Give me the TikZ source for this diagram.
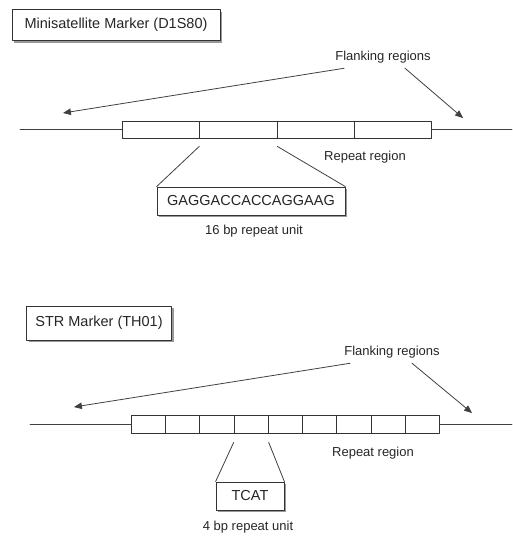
\documentclass[tikz,border=0pt]{standalone}
\usepackage{fontspec}
\setmainfont{Liberation Sans}
\usetikzlibrary{arrows,shadows}

\begin{document}
\begin{tikzpicture}[line cap=round,line join=round,>=triangle 45,x=1pt,y=-1pt,
  every node/.style={text=black!85},
  lbl/.style={font=\fontsize{13}{15}\selectfont,inner sep=1pt},
  tagbox/.style={draw=black!80,line width=0.8pt,fill=white,inner sep=0pt,
    font=\fontsize{14.5}{17}\selectfont,
    drop shadow={shadow xshift=2pt,shadow yshift=-2pt,fill=black!50,opacity=0.8}},
  cell/.style={draw=black!80,line width=0.8pt,fill=white,inner sep=0pt,anchor=west},
  strand/.style={line width=0.8pt,draw=black!75}]
\useasboundingbox (0,0) rectangle (512,538);

% minisatellite
\node[tagbox,minimum width=208,minimum height=31] (mark1) at (116,25) {Minisatellite Marker (D1S80)};
\node[lbl] (flank1) at (383,57) {Flanking regions};
\coordinate (lt1) at (63,113);
\coordinate (rt1) at (463,118);
\draw[->,strand] ([xshift=10pt,yshift=-4pt]flank1.south west) -- (lt1);
\draw[->,strand] ([xshift=22pt,yshift=-4pt]flank1.south) -- (rt1);
\foreach \i in {1,...,4}
  \node[cell,minimum width=77.25,minimum height=17] (a\i) at ({122+(\i-1)*77.25},129.5) {};
\coordinate (a0) at (20,129.5);
\coordinate (a5) at (512,129.5);
\draw[strand] (a0) -- (a1.west);
\draw[strand] (a4.east) -- (a5);
\node[lbl] (rep1) at (365,157) {Repeat region};
\node[tagbox,minimum width=188,minimum height=28] (seq1) at (251,201) {GAGGACCACCAGGAAG};
\draw[strand] ([yshift=-8pt]a2.south west) -- (seq1.north west);
\draw[strand] ([yshift=-8pt]a2.south east) -- (seq1.north east);
\node[lbl] (unit1) at (254,231) {16 bp repeat unit};

% STR
\node[tagbox,minimum width=145,minimum height=34] (mark2) at (99,323) {STR Marker (TH01)};
\node[lbl] (flank2) at (392,352) {Flanking regions};
\coordinate (lt2) at (74,407);
\coordinate (rt2) at (472,413);
\draw[->,strand] ([xshift=7pt,yshift=-4pt]flank2.south west) -- (lt2);
\draw[->,strand] ([xshift=20pt,yshift=-4pt]flank2.south) -- (rt2);
\foreach \i in {1,...,9}
  \node[cell,minimum width=34.22,minimum height=18] (b\i) at ({131+(\i-1)*34.22},424) {};
\coordinate (b0) at (30,424);
\coordinate (b10) at (512,424);
\draw[strand] (b0) -- (b1.west);
\draw[strand] (b9.east) -- (b10);
\node[lbl] (rep2) at (373,453) {Repeat region};
\node[tagbox,minimum width=68,minimum height=28] (seq2) at (250,496) {TCAT};
\draw[strand] ([yshift=-9pt]b4.south west) -- (seq2.north west);
\draw[strand] ([yshift=-9pt]b4.south east) -- (seq2.north east);
\node[lbl] (unit2) at (248,527) {4 bp repeat unit};
\end{tikzpicture}
\end{document}
